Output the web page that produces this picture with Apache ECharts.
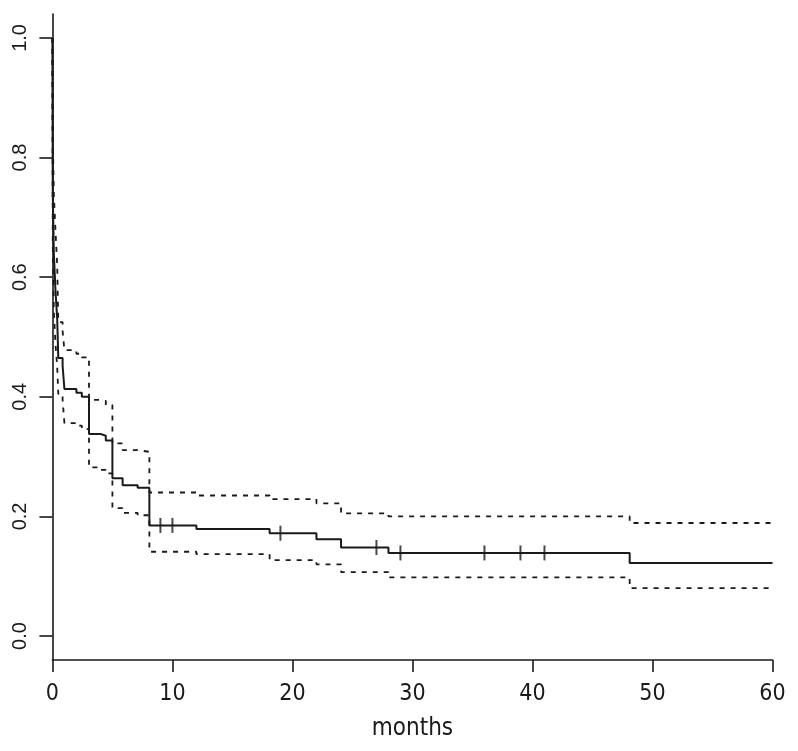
<!DOCTYPE html>
<html>
<head>
<meta charset="utf-8">
<script src="https://cdn.jsdelivr.net/npm/echarts@6/dist/echarts.min.js"></script>
<style>
html,body{margin:0;padding:0;background:#fff;}
#chart{width:798px;height:751px;}
</style>
</head>
<body>
<div id="chart"></div>
<script>
// Kaplan-Meier estimate: event times, survival, confidence band
const times = [0, 0.03, 0.12, 0.25, 0.40, 0.49, 0.85, 1.00, 2.00, 2.45, 3.05, 4.00, 4.45, 5.00, 5.85, 7.10, 8.08, 12.0, 18.1, 22.0, 24.05, 28.0, 48.1, 60];
const surv  = [1, 0.740, 0.640, 0.580, 0.530, 0.465, 0.452, 0.413, 0.407, 0.400, 0.338, 0.335, 0.327, 0.264, 0.252, 0.248, 0.185, 0.179, 0.172, 0.162, 0.148, 0.139, 0.122, 0.122];
const upper = [1, 0.835, 0.740, 0.680, 0.620, 0.525, 0.510, 0.478, 0.472, 0.466, 0.395, 0.393, 0.386, 0.322, 0.311, 0.308, 0.240, 0.235, 0.229, 0.222, 0.205, 0.200, 0.189, 0.189];
const lower = [1, 0.655, 0.545, 0.490, 0.450, 0.405, 0.395, 0.356, 0.352, 0.346, 0.282, 0.278, 0.272, 0.214, 0.206, 0.202, 0.141, 0.137, 0.127, 0.120, 0.107, 0.098, 0.080, 0.080];
const censorTimes = [9, 10, 19, 27, 29, 36, 39, 41];
const xTicks = [0, 10, 20, 30, 40, 50, 60];
const yTicks = [0, 0.2, 0.4, 0.6, 0.8, 1.0];

function survAt(t) {
  let v = surv[0];
  for (let i = 0; i < times.length; i++) { if (times[i] <= t) v = surv[i]; }
  return v;
}
const pair = (arr) => times.map((t, i) => [t, arr[i]]);
const censorData = censorTimes.map(t => [t, survAt(t)]);

const ink = '#1a1a1a';
const narrow = "'Liberation Sans Narrow','DejaVu Sans Condensed',sans-serif";
const chart = echarts.init(document.getElementById('chart'), null, {renderer: 'canvas'});
chart.setOption({
  animation: false,
  backgroundColor: '#ffffff',
  grid: {left: 52.4, right: 25.5, top: 14, bottom: 91, containLabel: false},
  xAxis: {
    type: 'value', min: 0, max: 60, interval: 10,
    name: 'months', nameLocation: 'middle', nameGap: 57,
    nameTextStyle: {fontFamily: narrow, fontSize: 24, color: ink},
    axisLine: {onZero: false, lineStyle: {color: ink, width: 1.6}},
    axisTick: {length: 12, lineStyle: {color: ink, width: 1.6}, customValues: xTicks},
    axisLabel: {margin: 23, fontFamily: narrow, fontSize: 23, color: ink, customValues: xTicks},
    splitLine: {show: false}
  },
  yAxis: {
    type: 'value', min: -0.04, max: 1.04,
    axisLine: {show: true, onZero: false, lineStyle: {color: ink, width: 1.6}},
    axisTick: {show: true, length: 13, lineStyle: {color: ink, width: 1.6}, customValues: yTicks},
    axisLabel: {show: true, rotate: 90, margin: 22, fontFamily: "'Liberation Sans',Arial,sans-serif", fontSize: 20, color: ink,
      customValues: yTicks, formatter: v => v.toFixed(1)},
    splitLine: {show: false}
  },
  series: [
    {type: 'line', step: 'end', data: pair(upper), showSymbol: false, silent: true,
      lineStyle: {color: ink, width: 1.8, type: [5, 6]}},
    {type: 'line', step: 'end', data: pair(lower), showSymbol: false, silent: true,
      lineStyle: {color: ink, width: 1.8, type: [5, 6]}},
    {type: 'line', step: 'end', data: pair(surv), showSymbol: false, silent: true,
      lineStyle: {color: ink, width: 2}},
    {type: 'scatter', data: censorData, symbol: 'rect', symbolSize: [2, 15], silent: true,
      itemStyle: {color: ink}}
  ]
});
</script>
</body>
</html>
